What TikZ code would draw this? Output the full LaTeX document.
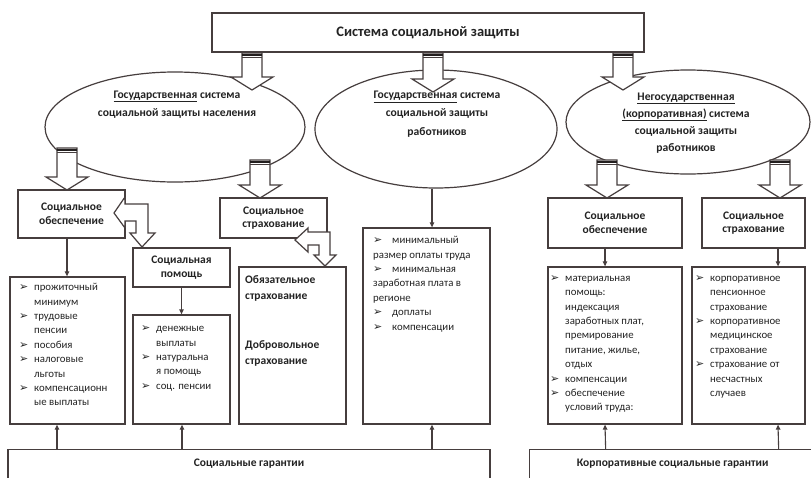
\documentclass[tikz,border=0pt]{standalone}
\usepackage{fontspec}
\setmainfont{Carlito}
\newfontfamily\bulfont{DejaVu Sans}
\usepackage{tikz}
\usetikzlibrary{shapes.geometric,arrows.meta}
\definecolor{SchemeLine}{RGB}{70,62,62}
\definecolor{SchemeText}{RGB}{35,35,35}
\newcommand\lst{\fontsize{10.8}{14.4}\selectfont}
\newcommand\lbl{\bfseries\fontsize{11.5}{13.5}\selectfont}
\newcommand\obl{\bfseries\fontsize{11.5}{16}\selectfont}
\newcommand\etx{\bfseries\fontsize{11.6}{18.3}\selectfont}
\newcommand\etr{\bfseries\fontsize{11.6}{17}\selectfont}
\newcommand\ttl{\bfseries\fontsize{14.5}{17}\selectfont}
\newcommand\bul[1][15pt]{\makebox[#1][l]{\bulfont\fontsize{11}{11}\selectfont ➢}}
\newcommand\ind{\hspace*{15pt}}

\begin{document}
\begin{tikzpicture}[x=1pt,y=-1pt,text=SchemeText,
  bx/.style n args={2}{draw=SchemeLine,line width=1.3pt,fill=white,minimum width=#1,minimum height=#2,inner sep=0pt,align=center,font=\lbl},
  ell/.style n args={2}{ellipse,draw=SchemeLine,line width=1.2pt,fill=white,minimum width=#1,minimum height=#2,inner sep=0pt},
  etxt/.style={align=center,inner sep=0pt,font=\etx},
  lst/.style={anchor=north west,inner sep=0pt,align=left,font=\lst},
  cn/.style={draw=SchemeLine,line width=1.1pt,-{Triangle[length=5pt,width=4.5pt]}},
  larr/.style={draw=SchemeLine,line width=1.2pt,fill=white,line join=miter},
  pics/darr/.style={code={
    \draw[larr] (-10,0) -- (10,0) -- (10,#1-13) -- (21,#1-13) -- (0,#1) -- (-21,#1-13) -- (-10,#1-13) -- cycle;
    \draw[SchemeLine!50!black,line width=2pt] (-10,1.5) -- (10,1.5);
    \draw[SchemeLine,line width=0.8pt] (-10,4.5) -- (10,4.5);
  }}]
\useasboundingbox (0,0) rectangle (811,477);
\clip (0,0) rectangle (811,477);
\fill[white] (0,0) rectangle (811,477);

% top level
\node[bx={432}{39},font=\ttl] (sys) at (428,32.5) {Система социальной защиты};

% three systems
\node[ell={260}{110}] (ellL) at (175,127) {};
\node[ell={242}{118}] (ellM) at (436,129) {};
\node[ell={244}{104}] (ellR) at (688,122) {};
\node[etxt] (tL) at (177,104.5) {\underline{Государственная} система\\социальной защиты населения};
\node[etxt] (tM) at (437,114) {\underline{Государственная} система\\социальной защиты\\работников};
\node[etxt,font=\etr] (tR) at (686,123) {\underline{Негосударственная}\\\underline{(корпоративная)} система\\социальной защиты\\работников};

\pic at (252,53) {darr=37};
\pic at (433,53) {darr=39};
\pic at (623,53) {darr=37};
\pic at (67,148) {darr=42};
\pic at (260,160) {darr=38};
\pic at (607,160) {darr=38};
\pic at (780,160) {darr=38};

% left branch
\node[bx={107}{48}] (socobL) at (71.5,214) {Социальное\\обеспечение};
\node[bx={97}{39}] (socpom) at (181.5,267.5) {Социальная\\помощь};
\node[bx={115}{147}] (listL) at (67.5,350.5) {};
\node[bx={97}{109}] (listP) at (181.5,369.5) {};
\node[bx={107}{40}] (socstrL) at (273.5,218) {Социальное\\страхование};
\node[bx={107}{157}] (oblig) at (292.5,345.5) {};
\node[bx={127}{196}] (listM) at (426.5,326) {};

% right branch
\node[bx={134}{50}] (socobR) at (615,223) {Социальное\\обеспечение};
\node[bx={103}{50}] (socstrR) at (753.5,223) {Социальное\\страхование};
\node[bx={134}{157}] (listR1) at (615,345.5) {};
\node[bx={113}{157}] (listR2) at (748.5,345.5) {};

% guarantees
\node[bx={482}{60},anchor=north,text height=9pt,text depth=40pt,inner ysep=8pt] (guarL) at (249,449) {Социальные гарантии};
\node[bx={286}{60},anchor=north west,text height=9pt,text depth=40pt,inner ysep=8pt] (guarR) at (529,449) {Корпоративные социальные гарантии};

\draw[larr] (114,213) -- (125,197) -- (125,204) -- (148,204) -- (148,233) -- (155,233) -- (142,247) -- (130,233) -- (136,233) -- (136,221) -- (125,221) -- (125,228) -- cycle;
\draw[larr] (295,240) -- (308,228) -- (308,232) -- (330,232) -- (330,255) -- (336,255) -- (325,266) -- (314,255) -- (319,255) -- (319,245) -- (308,245) -- (308,252) -- cycle;

% lists
\node[lst] (itL) at (19,280.5) {\strut\bul прожиточный\\\ind минимум\\\bul трудовые\\\ind пенсии\\\bul пособия\\\bul налоговые\\\ind льготы\\\bul компенсационн\\\ind ые выплаты};
\node[lst] (itP) at (141,321.5) {\strut\bul денежные\\\ind выплаты\\\bul натуральна\\\ind я помощь\\\bul соц. пенсии};
\node[lst,font=\obl] (itO) at (245,272.3) {\strut Обязательное\\страхование\\[33pt]Добровольное\\страхование};
\node[lst] (itM) at (373,233.5) {\strut\bul[19pt]минимальный\\размер оплаты труда\\\bul[19pt]минимальная\\заработная плата в\\регионе\\\bul[19pt]доплаты\\\bul[19pt]компенсации};
\node[lst] (itR1) at (550,271) {\strut\bul материальная\\\ind помощь:\\\ind индексация\\\ind заработных плат,\\\ind премирование\\\ind питание, жилье,\\\ind отдых\\\bul компенсации\\\bul обеспечение\\\ind условий труда:};
\node[lst] (itR2) at (695,271) {\strut\bul корпоративное\\\ind пенсионное\\\ind страхование\\\bul корпоративное\\\ind медицинское\\\ind страхование\\\bul страхование от\\\ind несчастных\\\ind случаев};

% connectors
\draw[cn] ([xshift=-4.5pt]socobL.south) -- ([xshift=-0.5pt]listL.north);
\draw[cn] (socpom.south) -- (listP.north);
\draw[cn] ([xshift=5.5pt]listM.north |- ellM.south) -- ([xshift=5.5pt]listM.north);
\draw[cn] ([xshift=-10pt]socobR.south) -- ([xshift=-10pt]listR1.north);
\draw[cn] ([xshift=24.5pt]socstrR.south) -- ([xshift=29.5pt]listR2.north);
\draw[cn] ([xshift=-192pt]guarL.north) -- ([xshift=-10.5pt]listL.south);
\draw[cn] ([xshift=-67pt]guarL.north) -- ([xshift=0.5pt]listP.south);
\draw[cn] ([xshift=183pt]guarL.north) -- ([xshift=5.5pt]listM.south);
\draw[cn] ([xshift=-67pt]guarR.north) -- ([xshift=-10pt]listR1.south);
\draw[cn] ([xshift=106pt]guarR.north) -- ([xshift=29.5pt]listR2.south);
\end{tikzpicture}
\end{document}
